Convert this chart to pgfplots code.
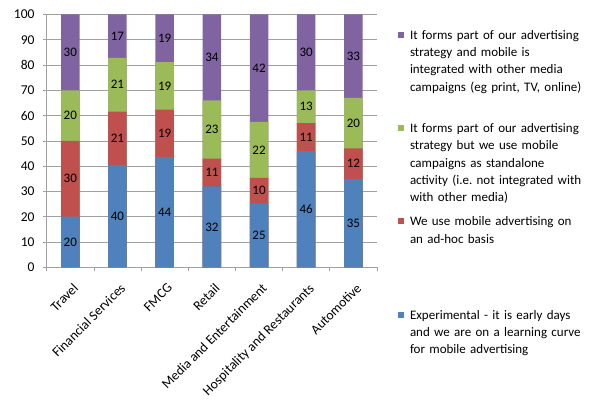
\documentclass[border=0pt]{standalone}
\usepackage{pgfplots}
\pgfplotsset{compat=1.18}
\usepackage{pgfplotstable}
\usepackage{fontspec}
\setmainfont{Carlito}
\frenchspacing
\definecolor{cBlue}{HTML}{4F81BD}
\definecolor{cRed}{HTML}{C0504D}
\definecolor{cGreen}{HTML}{9BBB59}
\definecolor{cPurple}{HTML}{8064A2}
\definecolor{cGrid}{HTML}{A0A0A0}
\pgfplotstableread{
cat b r g p
0 20 30 20 30
1 40 21 21 17
2 44 19 19 19
3 32 11 23 34
4 25 10 22 42
5 46 11 13 30
6 35 12 20 33
}\data
\newcommand\T{(\thisrow{b}+\thisrow{r}+\thisrow{g}+\thisrow{p})}
\pgfplotsset{/pgf/number format/assume math mode=true}
\begin{document}
\begin{tikzpicture}
\useasboundingbox (-46.7bp,-146.7bp) rectangle (553.3bp,267.3bp);
\begin{axis}[
  scale only axis, width=330.3bp, height=252.8bp,
  at={(0,0)}, anchor=south west,
  xmin=-0.5, xmax=6.5, ymin=0, ymax=100,
  ytick={0,10,...,100},
  ymajorgrids, major grid style={draw=cGrid, line width=0.75bp},
  axis x line*=bottom, axis y line*=left,
  axis line style={draw=cGrid, line width=0.75bp},
  tick align=outside, major tick length=4bp,
  tick style={draw=cGrid, line width=0.75bp},
  yticklabel style={font=\fontsize{13.5bp}{16bp}\selectfont, inner sep=0pt, xshift=-8bp},
  xtick={-0.5,0.5,1.5,2.5,3.5,4.5,5.5,6.5}, xticklabels={},
  extra x ticks={0,1,2,3,4,5,6},
  extra x tick labels={Travel,Financial Services,FMCG,Retail,Media and Entertainment,Hospitality and Restaurants,Automotive},
  extra x tick style={major tick length=0pt, tick label style={font=\fontsize{13.6bp}{16bp}\selectfont, inner sep=0pt, xshift=2bp, yshift=-15bp, rotate=45, anchor=north east}},
  legend style={at={(1.0636,0.9415)}, anchor=north west, draw=none, fill=none, inner sep=0pt, outer sep=0pt, row sep=0pt, column sep=6bp, font=\fontsize{13bp}{17.3bp}\selectfont, cells={anchor=base west}, nodes={inner sep=0pt, outer sep=0pt, text width=200bp, align=left, text height=10bp, text depth=83.3bp}},
  legend image code/.code={\fill[#1] (0bp,1.5bp) rectangle (6bp,7.5bp);},
  every node near coord/.append style={anchor=center, inner sep=0pt, font=\fontsize{13bp}{16bp}\selectfont, text=black},
]
\addplot[ybar, bar width=18.5bp, bar shift=0pt, fill=cPurple, draw=none] table[x=cat, y expr={(\thisrow{b}+\thisrow{r}+\thisrow{g}+\thisrow{p})*100/\T}] {\data};
\addlegendentry{It forms part of our advertising\\strategy and mobile is\\integrated with other media\\campaigns (eg print, TV, online)}
\addplot[ybar, bar width=18.5bp, bar shift=0pt, fill=cGreen, draw=none] table[x=cat, y expr={(\thisrow{b}+\thisrow{r}+\thisrow{g})*100/\T}] {\data};
\addlegendentry{It forms part of our advertising\\strategy but we use mobile\\campaigns as standalone\\activity (i.e. not integrated with\\with other media)}
\addplot[ybar, bar width=18.5bp, bar shift=0pt, fill=cRed, draw=none] table[x=cat, y expr={(\thisrow{b}+\thisrow{r})*100/\T}] {\data};
\addlegendentry{We use mobile advertising on\\an ad-hoc basis}
\addplot[ybar, bar width=18.5bp, bar shift=0pt, fill=cBlue, draw=none] table[x=cat, y expr={\thisrow{b}*100/\T}] {\data};
\addlegendentry{Experimental - it is early days\\and we are on a learning curve\\for mobile advertising}
% labels
\addplot[draw=none, mark=none, forget plot, nodes near coords, point meta=explicit] table[x=cat, y expr={(\thisrow{b}/2)*100/\T}, meta=b] {\data};
\addplot[draw=none, mark=none, forget plot, nodes near coords, point meta=explicit] table[x=cat, y expr={(\thisrow{b}+\thisrow{r}/2)*100/\T}, meta=r] {\data};
\addplot[draw=none, mark=none, forget plot, nodes near coords, point meta=explicit] table[x=cat, y expr={(\thisrow{b}+\thisrow{r}+\thisrow{g}/2)*100/\T}, meta=g] {\data};
\addplot[draw=none, mark=none, forget plot, nodes near coords, point meta=explicit] table[x=cat, y expr={(\thisrow{b}+\thisrow{r}+\thisrow{g}+\thisrow{p}/2)*100/\T}, meta=p] {\data};
\end{axis}
\end{tikzpicture}
\end{document}
